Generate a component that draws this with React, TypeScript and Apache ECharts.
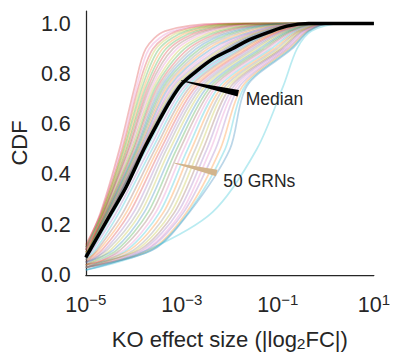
import React, { useEffect, useRef } from 'react';
import * as echarts from 'echarts';

const TAB10 = ['#1f77b4', '#ff7f0e', '#2ca02c', '#d62728', '#9467bd', '#8c564b', '#e377c2', '#7f7f7f', '#bcbd22', '#17becf'];
const FONT = "'Liberation Sans', Arial, Helvetica, sans-serif";
const INK = '#262626';

const X_MIN = 1e-5;
const X_MAX = 10;

// CDF levels at which each GRN curve's position (log10 of |log2FC|) was read
const LEVELS = [0.1, 0.25, 0.5, 0.75, 0.9, 0.97, 1.0];

// CDF value of each GRN at the left edge (1e-5)
const GRN_START = [
  0.11, 0.10, 0.12, 0.09, 0.10, 0.08, 0.11, 0.09, 0.08, 0.10,
  0.09, 0.08, 0.10, 0.07, 0.09, 0.08, 0.07, 0.09, 0.08, 0.07,
  0.08, 0.07, 0.07, 0.08, 0.07, 0.07, 0.06, 0.06, 0.05, 0.06,
  0.05, 0.04, 0.05, 0.04, 0.05, 0.04, 0.03, 0.04, 0.03, 0.04,
  0.03, 0.03, 0.04, 0.03, 0.03, 0.02, 0.03, 0.02, 0.03, 0.02,
];

// log10(effect size) at each CDF level in LEVELS (null = already above it at 1e-5)
const GRN_LOGX: (number | null)[][] = [
  [null, -4.69, -4.30, -3.98, -3.75, -3.35, -2.2],
  [null, -4.68, -4.27, -3.94, -3.68, -3.2, -2.0],
  [null, -4.67, -4.24, -3.90, -3.60, -3.1, -1.9],
  [-4.96, -4.66, -4.22, -3.86, -3.54, -3.0, -1.8],
  [null, -4.65, -4.20, -3.82, -3.47, -2.9, -1.7],
  [-4.94, -4.64, -4.17, -3.78, -3.40, -2.8, -1.6],
  [null, -4.63, -4.15, -3.74, -3.33, -2.7, -1.5],
  [-4.95, -4.62, -4.12, -3.70, -3.26, -2.6, -1.4],
  [-4.93, -4.61, -4.10, -3.66, -3.18, -2.5, -1.3],
  [null, -4.60, -4.07, -3.62, -3.10, -2.4, -1.2],
  [-4.95, -4.59, -4.05, -3.58, -3.02, -2.3, -1.1],
  [-4.93, -4.58, -4.02, -3.54, -2.94, -2.2, -1.0],
  [null, -4.57, -4.00, -3.50, -2.86, -2.1, -0.9],
  [-4.92, -4.56, -3.97, -3.46, -2.78, -2.0, -0.85],
  [-4.95, -4.55, -3.95, -3.42, -2.70, -1.9, -0.8],
  [-4.93, -4.54, -3.93, -3.38, -2.62, -1.8, -0.75],
  [-4.91, -4.53, -3.91, -3.34, -2.54, -1.7, -0.7],
  [-4.94, -4.52, -3.89, -3.30, -2.46, -1.6, -0.65],
  [-4.92, -4.51, -3.87, -3.26, -2.38, -1.5, -0.6],
  [-4.91, -4.50, -3.85, -3.22, -2.30, -1.45, -0.55],
  [-4.92, -4.49, -3.84, -3.18, -2.22, -1.4, -0.5],
  [-4.91, -4.49, -3.83, -3.14, -2.16, -1.35, -0.48],
  [-4.90, -4.48, -3.82, -3.10, -2.10, -1.3, -0.45],
  [-4.91, -4.48, -3.81, -3.08, -2.05, -1.25, -0.42],
  [-4.90, -4.47, -3.80, -3.06, -2.02, -1.2, -0.4],
  [-4.88, -4.42, -3.74, -3.00, -1.90, -1.15, -0.35],
  [-4.85, -4.36, -3.68, -2.94, -1.85, -1.10, -0.33],
  [-4.80, -4.30, -3.62, -2.88, -1.80, -1.06, -0.30],
  [-4.76, -4.22, -3.56, -2.82, -1.74, -1.02, -0.28],
  [-4.72, -4.15, -3.50, -2.76, -1.68, -0.98, -0.25],
  [-4.66, -4.08, -3.44, -2.70, -1.62, -0.94, -0.22],
  [-4.60, -4.00, -3.38, -2.64, -1.56, -0.90, -0.20],
  [-4.55, -3.92, -3.32, -2.58, -1.50, -0.86, -0.18],
  [-4.48, -3.85, -3.25, -2.52, -1.44, -0.82, -0.15],
  [-4.42, -3.78, -3.18, -2.46, -1.38, -0.78, -0.12],
  [-4.35, -3.70, -3.11, -2.40, -1.32, -0.74, -0.10],
  [-4.28, -3.62, -3.04, -2.34, -1.26, -0.70, -0.08],
  [-4.20, -3.54, -2.96, -2.28, -1.20, -0.66, -0.05],
  [-4.14, -3.46, -2.88, -2.22, -1.14, -0.62, -0.02],
  [-4.08, -3.38, -2.80, -2.16, -1.08, -0.58, 0.0],
  [-4.00, -3.30, -2.72, -2.10, -1.02, -0.55, 0.02],
  [-3.94, -3.22, -2.64, -2.04, -0.96, -0.52, 0.04],
  [-3.88, -3.15, -2.56, -1.98, -0.92, -0.49, 0.05],
  [-3.82, -3.08, -2.48, -1.92, -0.88, -0.46, 0.06],
  [-3.76, -3.01, -2.40, -1.86, -0.84, -0.43, 0.07],
  [-3.72, -2.96, -2.30, -1.80, -0.80, -0.40, 0.08],
  [-3.66, -2.90, -2.20, -1.74, -0.76, -0.38, 0.09],
  [-3.62, -2.86, -2.10, -1.69, -0.73, -0.36, 0.10],
  [-3.60, -2.84, -2.00, -1.65, -0.70, -0.35, 0.10],
  [-3.70, -2.36, -1.44, -0.89, -0.60, -0.30, 0.30],
];

// index into TAB10 for each GRN
const GRN_COLOR = [
  3, 6, 3, 8, 2, 1, 2, 3, 5, 6,
  8, 2, 3, 7, 0, 2, 7, 1, 0, 6,
  4, 8, 5, 0, 7, 9, 4, 9, 5, 1,
  3, 4, 7, 8, 0, 2, 5, 6, 9, 1,
  7, 8, 5, 4, 6, 4, 1, 9, 0, 9,
];

// pointwise median CDF
const MEDIAN_LOGX = [-5, -4.91, -4.46, -4.16, -3.79, -3.5, -3.25, -3.0, -2.7, -2.35, -1.95, -1.6, -1.2, -0.81, -0.36, 1];
const MEDIAN_CDF = [0.07, 0.10, 0.25, 0.35, 0.50, 0.605, 0.69, 0.76, 0.81, 0.86, 0.90, 0.935, 0.965, 0.99, 1.0, 1.0];

const Y_MAX = 1.05;
const Y_STEP = 0.2;

// annotations in data coordinates [log10 x, cdf]
const ANNOTATIONS = [
  { label: 'Median', color: '#000000', tip: [-3.013, 0.773], tail: [-1.824, 0.723], text: [-1.669, 0.70] },
  { label: '50 GRNs', color: '#d2b48c', tip: [-3.149, 0.445], tail: [-2.273, 0.406], text: [-2.136, 0.372] },
];

export default function App() {
  const ref = useRef<HTMLDivElement>(null);
  useEffect(() => {
    document.body.style.margin = '0';
    const chart = echarts.init(ref.current as HTMLDivElement, null, { renderer: 'svg' });
    const series: any[] = [];
    GRN_START.forEach((s, i) => {
      const pts: number[][] = [[X_MIN, s]];
      GRN_LOGX[i].forEach((q, k) => {
        if (q !== null) pts.push([Math.pow(10, q), LEVELS[k]]);
      });
      pts.push([X_MAX, 1]);
      series.push({
        type: 'line',
        data: pts,
        symbol: 'none',
        smooth: 0.3,
        silent: true,
        lineStyle: { color: TAB10[GRN_COLOR[i]], width: 1.7, opacity: 0.3 },
        z: 2,
      });
    });
    series.push({
      type: 'line',
      data: MEDIAN_LOGX.map((q, k) => [Math.pow(10, q), MEDIAN_CDF[k]]),
      symbol: 'none',
      smooth: 0.3,
      silent: true,
      lineStyle: { color: '#000000', width: 3.5 },
      z: 3,
    });

    chart.setOption({
      animation: false,
      textStyle: { fontFamily: FONT, color: INK },
      grid: { left: 82, right: 3, top: 11, bottom: 76 },
      xAxis: {
        type: 'log',
        logBase: 10,
        min: X_MIN,
        max: X_MAX,
        name: 'KO effect size (|log{sub|2}FC|)',
        nameLocation: 'middle',
        nameGap: 52,
        nameTextStyle: {
          fontSize: 22,
          color: INK,
          fontFamily: FONT,
          lineHeight: 24,
          rich: { sub: { fontSize: 15.5, lineHeight: 16, verticalAlign: 'bottom', fontFamily: FONT, color: INK } },
        },
        axisLine: { show: true, lineStyle: { color: INK, width: 1.25 } },
        axisTick: { show: false },
        splitLine: { show: false },
        minorTick: { show: false },
        axisLabel: {
          margin: 17,
          color: INK,
          formatter: (v: number) => {
            const e = Math.round(Math.log10(v));
            if (e % 2 === 0) return '';
            return '{b|10}{s|' + (e < 0 ? '\u2212' : '') + Math.abs(e) + '}';
          },
          rich: {
            b: { fontSize: 21.5, lineHeight: 24, padding: [3, 0, 0, 0], verticalAlign: 'bottom', fontFamily: FONT, color: INK },
            s: { fontSize: 15, lineHeight: 14, verticalAlign: 'top', fontFamily: FONT, color: INK },
          },
        },
      },
      yAxis: {
        type: 'value',
        min: 0,
        max: Y_MAX,
        interval: Y_STEP,
        name: 'CDF',
        nameLocation: 'middle',
        nameGap: 51,
        nameTextStyle: { fontSize: 22, color: INK, fontFamily: FONT },
        axisLine: { show: true, lineStyle: { color: INK, width: 1.25 } },
        axisTick: { show: false },
        splitLine: { show: false },
        axisLabel: {
          margin: 15,
          fontSize: 21.5,
          color: INK,
          fontFamily: FONT,
          formatter: (v: number) => {
            const r = v / Y_STEP;
            return Math.abs(r - Math.round(r)) < 1e-6 ? v.toFixed(1) : '';
          },
        },
      },
      series,
    });

    const px = (p: number[]) => chart.convertToPixel({ gridIndex: 0 } as any, [Math.pow(10, p[0]), p[1]]) as number[];
    const graphic: any[] = [];
    ANNOTATIONS.forEach((a) => {
      const t = px(a.tip);
      const b = px(a.tail);
      const dx = b[0] - t[0];
      const dy = b[1] - t[1];
      const len = Math.sqrt(dx * dx + dy * dy);
      const nx = -dy / len;
      const ny = dx / len;
      const wt = 0.4;
      const wb = 3.3;
      graphic.push({
        type: 'polygon',
        silent: true,
        z: 10,
        shape: {
          points: [
            [t[0] + nx * wt, t[1] + ny * wt],
            [b[0] + nx * wb, b[1] + ny * wb],
            [b[0] - nx * wb, b[1] - ny * wb],
            [t[0] - nx * wt, t[1] - ny * wt],
          ],
        },
        style: { fill: a.color },
      });
      const tp = px(a.text);
      graphic.push({
        type: 'text',
        silent: true,
        z: 10,
        x: tp[0],
        y: tp[1],
        style: { text: a.label, fontSize: 17.5, fontFamily: FONT, fill: INK, align: 'left', verticalAlign: 'middle' },
      });
    });
    chart.setOption({ graphic });

    return () => chart.dispose();
  }, []);
  return <div ref={ref} style={{ width: 393, height: 356 }} />;
}
